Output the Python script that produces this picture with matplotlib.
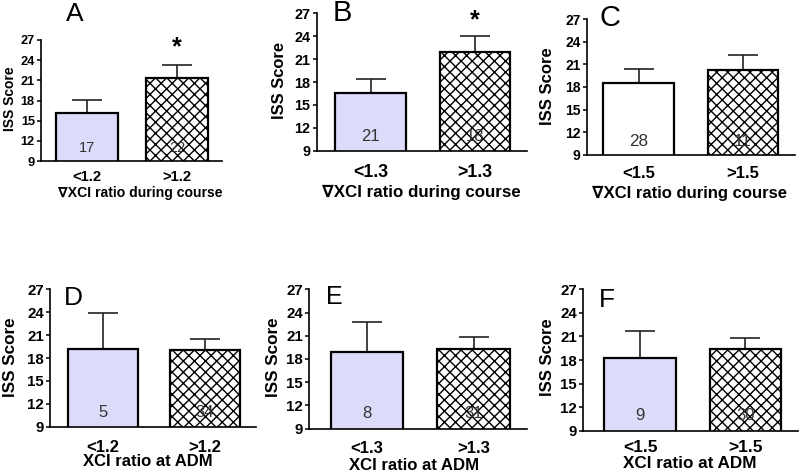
import matplotlib
matplotlib.use("Agg")
import matplotlib.pyplot as plt

plt.rcParams['font.family'] = ['Liberation Sans', 'DejaVu Sans']
plt.rcParams['hatch.linewidth'] = 1.0

# ---------------- data ----------------
panel_letters = ['A', 'B', 'C', 'D', 'E', 'F']
categories_A = ['<1.2', '>1.2']
categories_B = ['<1.3', '>1.3']
categories_C = ['<1.5', '>1.5']
categories_D = ['<1.2', '>1.2']
categories_E = ['<1.3', '>1.3']
categories_F = ['<1.5', '>1.5']

means_A = [16.2, 21.4]
means_B = [16.55, 21.95]
means_C = [18.55, 20.3]
means_D = [19.2, 19.05]
means_E = [18.95, 19.3]
means_F = [18.3, 19.45]

sem_A = [1.85, 1.9]
sem_B = [1.8, 2.1]
sem_C = [1.85, 2.0]
sem_D = [4.75, 1.4]
sem_E = [3.85, 1.5]
sem_F = [3.35, 1.4]

n_A = [17, 22]
n_B = [21, 18]
n_C = [28, 11]
n_D = [5, 34]
n_E = [8, 31]
n_F = [9, 30]

sig_A = [False, True]
sig_B = [False, True]
sig_C = [False, False]
sig_D = [False, False]
sig_E = [False, False]
sig_F = [False, False]

xlabel_top = '\u2207XCI ratio during course'
xlabel_bottom = 'XCI ratio at ADM'
ylabel = 'ISS Score'
yticks = [9, 12, 15, 18, 21, 24, 27]

# ---------------- layout (pixels) ----------------
W, H = 800, 474
fig = plt.figure(figsize=(W / 100, H / 100), dpi=100)

# box: left, top, right, bottom of axes in px
# fonts: ytick, xtick, xlabel, ylabel, n-label (pt)
layout = {
    'A': dict(box=(41, 40, 222, 161), xl=-0.51, c0='#dcdcfa',
              fonts=(9.2, 10.6, 10.1, 10.0, 10.5),
              title=(75, 14, 19), ylab=(10, 99), xlab=(140, 193),
              tpad=6.5, npad=9.4),
    'B': dict(box=(316.7, 13.3, 527, 150.7), xl=-0.52, c0='#dcdcfa',
              fonts=(10.4, 12.8, 12.2, 11.9, 12.0),
              title=(342, 13, 21), ylab=(279, 80), xlab=(421.5, 192),
              tpad=9.6, npad=9.9),
    'C': dict(box=(586.7, 19, 795, 155), xl=-0.50, c0='white',
              fonts=(10.0, 12.0, 12.0, 12.0, 12.3),
              title=(610, 18, 21), ylab=(547, 86), xlab=(690, 193),
              tpad=7.8, npad=9.4),
    'D': dict(box=(50, 289.3, 256, 426.7), xl=-0.52, c0='#dcdcfa',
              fonts=(10.8, 12.0, 12.0, 12.3, 12.0),
              title=(73, 298, 19), ylab=(11, 357), xlab=(148, 462),
              tpad=9.5, npad=9.9),
    'E': dict(box=(309.3, 289.3, 527, 428.7), xl=-0.54, c0='#dcdcfa',
              fonts=(10.8, 12.0, 12.1, 12.3, 12.0),
              title=(334, 297, 18), ylab=(274, 357), xlab=(414, 465),
              tpad=8.5, npad=11.1),
    'F': dict(box=(583.3, 289.3, 798, 430.7), xl=-0.54, c0='#dcdcfa',
              fonts=(10.8, 12.5, 12.3, 12.0, 12.0),
              title=(607, 300, 19), ylab=(547, 357), xlab=(690, 463),
              tpad=6.5, npad=11.3),
}

panels = {
    'A': (categories_A, means_A, sem_A, n_A, sig_A, xlabel_top),
    'B': (categories_B, means_B, sem_B, n_B, sig_B, xlabel_top),
    'C': (categories_C, means_C, sem_C, n_C, sig_C, xlabel_top),
    'D': (categories_D, means_D, sem_D, n_D, sig_D, xlabel_bottom),
    'E': (categories_E, means_E, sem_E, n_E, sig_E, xlabel_bottom),
    'F': (categories_F, means_F, sem_F, n_F, sig_F, xlabel_bottom),
}

for letter in panel_letters:
    cats, means, sems, ns, sigs, xlab = panels[letter]
    L = layout[letter]
    l, t, r, b = L['box']
    f_yt, f_xt, f_xl, f_yl, f_n = L['fonts']
    ax = fig.add_axes([l / W, (H - b) / H, (r - l) / W, (b - t) / H])
    x = list(range(len(cats)))
    ax.bar(x[0], means[0], width=0.68, bottom=0, color=L['c0'],
           edgecolor='black', linewidth=1.6, zorder=2)
    ax.bar(x[1], means[1], width=0.68, bottom=0, color='white',
           edgecolor='black', linewidth=1.6, hatch='xxx', zorder=2)
    ax.errorbar(x, means, yerr=[[0] * len(x), sems], fmt='none',
                ecolor='#222222', elinewidth=1.2, capsize=11, capthick=1.2,
                zorder=1)
    ax.set_ylim(9, 27)
    ax.set_xlim(L['xl'], 1.5)
    ax.set_yticks(yticks)
    ax.set_yticklabels([str(v) for v in yticks], fontsize=f_yt,
                       fontweight='bold')
    ax.set_xticks(x)
    ax.set_xticklabels(cats, fontsize=f_xt, fontweight='bold')
    ax.tick_params(axis='x', length=0, pad=L['tpad'])
    ax.tick_params(axis='y', length=3, width=1.1, pad=1.5)
    for s in ['top', 'right']:
        ax.spines[s].set_visible(False)
    for s in ['left', 'bottom']:
        ax.spines[s].set_linewidth(1.2)
    ax.set_xlabel(xlab, fontsize=f_xl, fontweight='bold')
    ax.xaxis.label.set_verticalalignment('center')
    xx, xy = L['xlab']
    ax.xaxis.set_label_coords((xx - l) / (r - l), (b - xy) / (b - t))
    ax.set_ylabel(ylabel, fontsize=f_yl, fontweight='bold')
    ax.yaxis.label.set_verticalalignment('center')
    yx, yy = L['ylab']
    ax.yaxis.set_label_coords((yx - l) / (r - l), (b - yy) / (b - t))
    for xi, nv in zip(x, ns):
        ax.annotate(str(nv), (xi, 9), xytext=(0, L['npad']),
                    textcoords='offset points', ha='center', va='center',
                    fontsize=f_n, color='#333333', zorder=3)
    for xi, sg in zip(x, sigs):
        if sg:
            ax.annotate('*', (xi, 27), xytext=(0, -5), textcoords='offset points',
                        ha='center', va='center', fontsize=18,
                        fontweight='bold', annotation_clip=False)
    tx, ty, tsz = L['title']
    fig.text(tx / W, 1 - ty / H, letter, ha='center', va='center',
             fontsize=tsz)

fig.savefig('out.png', dpi=100)
